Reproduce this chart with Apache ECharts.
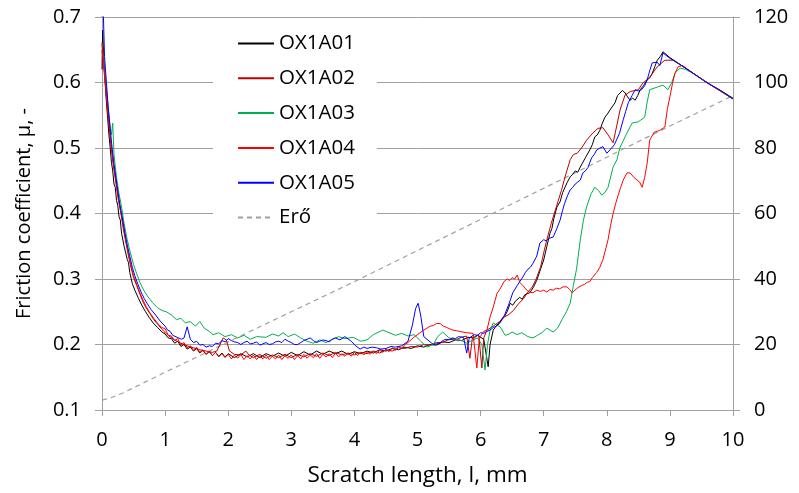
<!DOCTYPE html>
<html>
<head>
<meta charset="utf-8">
<script src="https://cdn.jsdelivr.net/npm/echarts@6/dist/echarts.min.js"></script>
<style>html,body{margin:0;padding:0;background:#fff}#c{width:799px;height:493px}</style>
</head>
<body>
<div id="c"></div>
<script>
// Tick values
const xTicks = [0,1,2,3,4,5,6,7,8,9,10];
const leftTicks = [0.1,0.2,0.3,0.4,0.5,0.6,0.7];
const rightTicks = [0,20,40,60,80,100,120];

const seriesNames = ['OX1A01','OX1A02','OX1A03','OX1A04','OX1A05','Erő'];

// [scratch length (mm), friction coefficient]
const OX1A01 = [[0,0.62],[0.01,0.68],[0.03,0.63],[0.05,0.6],[0.07,0.57],[0.09,0.545],[0.11,0.52],[0.13,0.5],[0.15,0.478],[0.17,0.465],[0.19,0.445],[0.21,0.44],[0.23,0.42],[0.25,0.412],[0.27,0.395],[0.29,0.39],[0.31,0.37],[0.33,0.368],[0.35,0.35],[0.37,0.347],[0.4,0.33],[0.42,0.325],[0.44,0.31],[0.46,0.308],[0.48,0.293],[0.5,0.294],[0.52,0.283],[0.55,0.28],[0.58,0.27],[0.6,0.271],[0.63,0.26],[0.66,0.26],[0.69,0.25],[0.72,0.25],[0.75,0.241],[0.78,0.242],[0.81,0.233],[0.84,0.233],[0.88,0.226],[0.91,0.226],[0.95,0.219],[1.0,0.216],[1.05,0.21],[1.1,0.209],[1.15,0.202],[1.2,0.205],[1.25,0.197],[1.3,0.2],[1.35,0.193],[1.4,0.196],[1.45,0.19],[1.5,0.194],[1.55,0.187],[1.6,0.191],[1.65,0.185],[1.7,0.189],[1.75,0.183],[1.8,0.188],[1.85,0.182],[1.9,0.187],[1.95,0.181],[2.0,0.186],[2.1,0.18],[2.2,0.186],[2.3,0.181],[2.4,0.186],[2.5,0.18],[2.6,0.186],[2.7,0.182],[2.8,0.187],[2.9,0.182],[3.0,0.188],[3.1,0.183],[3.2,0.189],[3.3,0.184],[3.4,0.19],[3.5,0.185],[3.6,0.19],[3.7,0.186],[3.8,0.19],[3.9,0.185],[4.0,0.189],[4.1,0.186],[4.2,0.19],[4.3,0.187],[4.4,0.192],[4.5,0.19],[4.6,0.194],[4.7,0.192],[4.8,0.196],[4.9,0.194],[5.0,0.198],[5.1,0.196],[5.2,0.2],[5.3,0.199],[5.4,0.204],[5.5,0.203],[5.6,0.207],[5.7,0.206],[5.8,0.211],[5.9,0.21],[5.95,0.214],[6.05,0.208],[6.12,0.166],[6.15,0.2],[6.2,0.222],[6.26,0.23],[6.3,0.233],[6.34,0.24],[6.38,0.243],[6.42,0.25],[6.47,0.263],[6.51,0.26],[6.55,0.266],[6.62,0.272],[6.66,0.269],[6.7,0.276],[6.78,0.279],[6.84,0.288],[6.89,0.298],[6.95,0.315],[7.0,0.329],[7.05,0.35],[7.1,0.37],[7.13,0.377],[7.16,0.392],[7.21,0.41],[7.26,0.418],[7.3,0.432],[7.37,0.447],[7.42,0.456],[7.46,0.46],[7.5,0.465],[7.54,0.463],[7.58,0.471],[7.66,0.485],[7.73,0.497],[7.77,0.505],[7.81,0.517],[7.85,0.52],[7.89,0.527],[7.93,0.538],[7.97,0.547],[8.01,0.552],[8.05,0.558],[8.13,0.569],[8.17,0.58],[8.21,0.584],[8.25,0.588],[8.29,0.584],[8.33,0.578],[8.37,0.573],[8.41,0.576],[8.45,0.573],[8.49,0.58],[8.53,0.589],[8.58,0.595],[8.64,0.604],[8.68,0.607],[8.72,0.614],[8.76,0.624],[8.8,0.634],[8.85,0.64],[8.89,0.647],[9.0,0.638],[9.2,0.625],[9.4,0.612],[9.6,0.599],[9.8,0.588],[10,0.576]];

const OX1A02 = [[0,0.65],[0.02,0.63],[0.05,0.6],[0.08,0.565],[0.11,0.535],[0.14,0.505],[0.17,0.48],[0.2,0.46],[0.23,0.44],[0.26,0.42],[0.3,0.4],[0.34,0.375],[0.38,0.355],[0.42,0.335],[0.46,0.318],[0.5,0.302],[0.55,0.29],[0.6,0.277],[0.65,0.265],[0.7,0.256],[0.76,0.247],[0.82,0.238],[0.9,0.229],[0.98,0.22],[1.06,0.213],[1.15,0.207],[1.25,0.202],[1.35,0.198],[1.45,0.195],[1.55,0.192],[1.65,0.19],[1.75,0.188],[1.82,0.19],[1.87,0.2],[1.92,0.21],[1.97,0.207],[2.02,0.19],[2.1,0.185],[2.2,0.184],[2.28,0.19],[2.33,0.184],[2.4,0.18],[2.5,0.185],[2.6,0.179],[2.7,0.184],[2.8,0.18],[2.9,0.185],[3.0,0.18],[3.1,0.185],[3.2,0.181],[3.3,0.186],[3.4,0.182],[3.5,0.187],[3.6,0.183],[3.7,0.188],[3.8,0.184],[3.9,0.187],[4.0,0.184],[4.1,0.188],[4.2,0.186],[4.3,0.19],[4.4,0.187],[4.5,0.192],[4.6,0.19],[4.7,0.195],[4.8,0.194],[4.9,0.197],[5.0,0.196],[5.1,0.2],[5.2,0.199],[5.3,0.203],[5.4,0.203],[5.5,0.208],[5.6,0.207],[5.7,0.211],[5.78,0.213],[5.83,0.179],[5.87,0.21],[5.97,0.215],[6.02,0.164],[6.05,0.21],[6.1,0.222],[6.2,0.228],[6.3,0.235],[6.38,0.242],[6.45,0.246],[6.52,0.252],[6.6,0.262],[6.68,0.27],[6.75,0.28],[6.82,0.288],[6.88,0.3],[6.95,0.318],[7.0,0.34],[7.05,0.36],[7.12,0.385],[7.2,0.41],[7.28,0.435],[7.35,0.46],[7.42,0.482],[7.47,0.49],[7.53,0.492],[7.6,0.5],[7.68,0.512],[7.78,0.523],[7.86,0.53],[7.94,0.531],[8.02,0.52],[8.1,0.508],[8.16,0.535],[8.21,0.558],[8.29,0.581],[8.37,0.586],[8.5,0.589],[8.57,0.599],[8.68,0.608],[8.8,0.624],[8.92,0.634],[9.05,0.634],[9.2,0.625],[9.4,0.612],[9.6,0.599],[9.8,0.587],[10,0.575]];

const OX1A03 = [[0,0.66],[0.03,0.63],[0.06,0.6],[0.09,0.57],[0.12,0.54],[0.15,0.52],[0.17,0.538],[0.19,0.49],[0.23,0.455],[0.27,0.43],[0.31,0.41],[0.35,0.385],[0.4,0.36],[0.45,0.34],[0.5,0.322],[0.55,0.308],[0.6,0.295],[0.66,0.283],[0.72,0.274],[0.8,0.264],[0.88,0.256],[0.95,0.252],[1.02,0.25],[1.1,0.245],[1.18,0.238],[1.25,0.24],[1.32,0.233],[1.4,0.235],[1.48,0.228],[1.55,0.235],[1.62,0.225],[1.7,0.22],[1.76,0.215],[1.85,0.218],[1.95,0.212],[2.05,0.215],[2.15,0.21],[2.25,0.214],[2.35,0.208],[2.45,0.212],[2.6,0.211],[2.7,0.216],[2.8,0.213],[2.87,0.218],[2.95,0.212],[3.05,0.216],[3.15,0.21],[3.25,0.205],[3.35,0.202],[3.45,0.207],[3.55,0.203],[3.65,0.208],[3.75,0.212],[3.85,0.209],[3.98,0.211],[4.1,0.205],[4.2,0.207],[4.3,0.215],[4.45,0.222],[4.55,0.218],[4.65,0.214],[4.75,0.217],[4.85,0.213],[4.95,0.215],[5.05,0.205],[5.15,0.196],[5.25,0.2],[5.32,0.212],[5.4,0.219],[5.5,0.21],[5.6,0.208],[5.7,0.206],[5.78,0.202],[5.86,0.206],[5.95,0.21],[6.02,0.2],[6.07,0.161],[6.11,0.2],[6.15,0.222],[6.2,0.233],[6.25,0.23],[6.31,0.227],[6.39,0.214],[6.45,0.216],[6.5,0.219],[6.58,0.215],[6.65,0.218],[6.75,0.212],[6.83,0.21],[6.9,0.214],[6.97,0.218],[7.05,0.225],[7.1,0.222],[7.15,0.219],[7.22,0.225],[7.3,0.24],[7.36,0.25],[7.42,0.263],[7.47,0.29],[7.52,0.315],[7.58,0.36],[7.63,0.39],[7.68,0.41],[7.75,0.43],[7.81,0.44],[7.87,0.435],[7.92,0.428],[7.97,0.432],[8.02,0.44],[8.1,0.471],[8.16,0.482],[8.21,0.501],[8.32,0.523],[8.4,0.538],[8.5,0.54],[8.6,0.547],[8.64,0.57],[8.68,0.589],[8.8,0.593],[8.89,0.596],[8.97,0.589],[9.03,0.6],[9.08,0.614],[9.16,0.622],[9.25,0.62],[9.4,0.612],[9.6,0.599],[9.8,0.587],[10,0.575]];

const OX1A04 = [[0,0.66],[0.02,0.64],[0.05,0.605],[0.08,0.57],[0.11,0.54],[0.14,0.51],[0.17,0.485],[0.2,0.465],[0.23,0.445],[0.26,0.425],[0.3,0.402],[0.34,0.38],[0.38,0.358],[0.42,0.338],[0.46,0.32],[0.5,0.305],[0.55,0.292],[0.6,0.279],[0.65,0.268],[0.7,0.258],[0.76,0.248],[0.82,0.24],[0.9,0.23],[0.95,0.226],[1.0,0.224],[1.05,0.214],[1.1,0.213],[1.15,0.206],[1.2,0.209],[1.25,0.199],[1.3,0.203],[1.35,0.195],[1.4,0.198],[1.45,0.191],[1.5,0.196],[1.55,0.188],[1.6,0.192],[1.65,0.185],[1.7,0.19],[1.75,0.183],[1.8,0.188],[1.85,0.181],[1.9,0.186],[1.95,0.18],[2.0,0.185],[2.05,0.178],[2.1,0.184],[2.15,0.179],[2.2,0.185],[2.25,0.177],[2.3,0.183],[2.35,0.178],[2.4,0.184],[2.45,0.177],[2.5,0.183],[2.55,0.178],[2.6,0.184],[2.65,0.177],[2.7,0.182],[2.75,0.178],[2.8,0.184],[2.85,0.177],[2.9,0.183],[2.95,0.179],[3.0,0.184],[3.05,0.177],[3.1,0.183],[3.15,0.178],[3.2,0.185],[3.25,0.179],[3.3,0.184],[3.35,0.18],[3.4,0.186],[3.45,0.179],[3.5,0.185],[3.55,0.181],[3.6,0.186],[3.65,0.18],[3.7,0.187],[3.75,0.181],[3.8,0.186],[3.85,0.182],[3.9,0.187],[3.95,0.182],[4.0,0.188],[4.05,0.183],[4.1,0.188],[4.15,0.184],[4.2,0.189],[4.25,0.185],[4.3,0.19],[4.35,0.186],[4.4,0.191],[4.45,0.188],[4.5,0.193],[4.55,0.189],[4.6,0.195],[4.65,0.191],[4.7,0.197],[4.75,0.194],[4.8,0.2],[4.85,0.203],[4.93,0.21],[5.04,0.218],[5.1,0.222],[5.15,0.225],[5.2,0.228],[5.25,0.229],[5.3,0.232],[5.36,0.232],[5.41,0.228],[5.46,0.226],[5.51,0.224],[5.56,0.222],[5.62,0.221],[5.67,0.22],[5.72,0.219],[5.78,0.218],[5.88,0.217],[5.94,0.164],[5.98,0.21],[6.05,0.22],[6.1,0.222],[6.15,0.242],[6.2,0.257],[6.26,0.278],[6.31,0.285],[6.37,0.296],[6.42,0.3],[6.46,0.298],[6.5,0.302],[6.54,0.3],[6.58,0.306],[6.62,0.295],[6.67,0.29],[6.73,0.283],[6.78,0.28],[6.83,0.279],[6.89,0.283],[6.95,0.281],[7.0,0.283],[7.05,0.28],[7.1,0.284],[7.15,0.283],[7.2,0.286],[7.25,0.285],[7.31,0.288],[7.37,0.288],[7.41,0.284],[7.45,0.279],[7.52,0.285],[7.56,0.288],[7.6,0.29],[7.65,0.292],[7.69,0.295],[7.73,0.296],[7.77,0.302],[7.84,0.31],[7.89,0.318],[7.94,0.33],[8.02,0.36],[8.06,0.382],[8.1,0.4],[8.14,0.415],[8.18,0.428],[8.22,0.44],[8.26,0.451],[8.32,0.462],[8.37,0.462],[8.43,0.455],[8.48,0.451],[8.52,0.448],[8.56,0.44],[8.6,0.455],[8.64,0.477],[8.68,0.512],[8.75,0.524],[8.84,0.527],[8.92,0.532],[8.96,0.56],[9.0,0.578],[9.04,0.598],[9.08,0.614],[9.13,0.624],[9.2,0.626],[9.4,0.612],[9.6,0.599],[9.8,0.587],[10,0.575]];

const OX1A05 = [[0,0.7],[0.02,0.71],[0.04,0.64],[0.07,0.6],[0.1,0.56],[0.13,0.53],[0.16,0.5],[0.19,0.475],[0.22,0.455],[0.25,0.435],[0.28,0.415],[0.32,0.395],[0.36,0.372],[0.4,0.352],[0.44,0.335],[0.48,0.318],[0.52,0.305],[0.57,0.292],[0.62,0.28],[0.67,0.27],[0.72,0.262],[0.78,0.253],[0.85,0.245],[0.92,0.236],[1.0,0.228],[1.04,0.222],[1.08,0.22],[1.12,0.214],[1.15,0.216],[1.19,0.211],[1.22,0.214],[1.26,0.208],[1.3,0.21],[1.35,0.227],[1.4,0.208],[1.45,0.203],[1.5,0.205],[1.55,0.199],[1.6,0.2],[1.65,0.196],[1.7,0.198],[1.75,0.197],[1.8,0.202],[1.85,0.201],[1.9,0.206],[1.95,0.204],[2.0,0.209],[2.05,0.206],[2.1,0.204],[2.15,0.203],[2.2,0.2],[2.25,0.203],[2.3,0.205],[2.35,0.201],[2.4,0.202],[2.45,0.204],[2.5,0.199],[2.55,0.201],[2.6,0.203],[2.65,0.2],[2.7,0.201],[2.75,0.204],[2.8,0.205],[2.85,0.203],[2.9,0.208],[2.95,0.205],[3.0,0.203],[3.05,0.2],[3.1,0.2],[3.15,0.203],[3.2,0.206],[3.25,0.208],[3.3,0.21],[3.35,0.206],[3.4,0.203],[3.45,0.205],[3.5,0.207],[3.55,0.206],[3.6,0.204],[3.65,0.208],[3.7,0.21],[3.77,0.207],[3.85,0.212],[3.95,0.205],[4.02,0.198],[4.09,0.193],[4.15,0.196],[4.2,0.194],[4.28,0.196],[4.35,0.195],[4.42,0.193],[4.5,0.194],[4.58,0.197],[4.65,0.196],[4.75,0.198],[4.85,0.205],[4.92,0.23],[4.97,0.255],[5.01,0.263],[5.05,0.245],[5.1,0.212],[5.15,0.208],[5.2,0.204],[5.25,0.2],[5.3,0.201],[5.35,0.202],[5.4,0.206],[5.45,0.208],[5.5,0.207],[5.55,0.21],[5.6,0.209],[5.65,0.212],[5.73,0.211],[5.78,0.187],[5.82,0.21],[5.9,0.215],[5.95,0.214],[6.0,0.218],[6.05,0.217],[6.1,0.22],[6.15,0.222],[6.2,0.226],[6.25,0.228],[6.3,0.232],[6.34,0.238],[6.38,0.245],[6.45,0.262],[6.51,0.279],[6.58,0.29],[6.62,0.296],[6.67,0.303],[6.71,0.31],[6.75,0.315],[6.79,0.318],[6.83,0.324],[6.89,0.335],[6.94,0.355],[7.0,0.36],[7.04,0.358],[7.08,0.362],[7.15,0.364],[7.2,0.375],[7.26,0.39],[7.3,0.405],[7.33,0.415],[7.38,0.428],[7.42,0.436],[7.46,0.44],[7.5,0.445],[7.54,0.448],[7.58,0.451],[7.62,0.462],[7.66,0.465],[7.7,0.47],[7.76,0.485],[7.8,0.49],[7.84,0.497],[7.89,0.5],[7.94,0.502],[8.0,0.492],[8.05,0.497],[8.12,0.505],[8.2,0.522],[8.26,0.543],[8.3,0.556],[8.34,0.569],[8.4,0.58],[8.45,0.589],[8.5,0.587],[8.55,0.589],[8.6,0.595],[8.64,0.604],[8.68,0.618],[8.72,0.63],[8.8,0.631],[8.84,0.626],[8.89,0.645],[9.0,0.637],[9.2,0.625],[9.4,0.612],[9.6,0.599],[9.8,0.588],[10,0.575]];

// [scratch length (mm), load (N)] on the right axis
const Ero = [[0,3],[0.15,3.8],[0.33,5.2],[1,11.5],[2,20.8],[3,30],[4,39.2],[5,48.7],[6,58.2],[7,67.7],[8,77.2],[9,86.7],[10,96]];

const colors = ['#000000','#c00000','#00b050','#ff0000','#0000ff','#a0a0a0'];
const lineData = [OX1A01, OX1A02, OX1A03, OX1A04, OX1A05];

const FONT = '"Open Sans", sans-serif';
const gridColor = '#a0a0a0';

const chart = echarts.init(document.getElementById('c'), null, {renderer: 'canvas'});

const series = lineData.map((d, i) => ({
  name: seriesNames[i], type: 'line', data: d, symbol: 'none', showSymbol: false,
  lineStyle: {width: 1, color: colors[i]}, itemStyle: {color: colors[i]},
  xAxisIndex: 0, yAxisIndex: 0, animation: false, z: 3 + i
}));
series.push({
  name: seriesNames[5], type: 'line', data: Ero, symbol: 'none', showSymbol: false,
  lineStyle: {width: 1.2, color: colors[5], type: [5, 4]}, itemStyle: {color: colors[5]},
  xAxisIndex: 0, yAxisIndex: 1, animation: false, z: 2
});

chart.setOption({
  animation: false,
  backgroundColor: '#ffffff',
  textStyle: {fontFamily: FONT},
  grid: {left: 102, right: 66, top: 17, bottom: 83, containLabel: false},
  legend: {
    show: true,
    orient: 'vertical', left: 213, top: 25,
    padding: [8, 22, 8, 24], backgroundColor: '#ffffff',
    itemWidth: 36, itemHeight: 14, itemGap: 13.8,
    data: seriesNames,
    itemStyle: {opacity: 0},
    textStyle: {fontFamily: FONT, fontSize: 20.5, color: '#000', lineHeight: 20}
  },
  xAxis: {
    type: 'value', min: xTicks[0], max: xTicks[xTicks.length - 1], interval: 1,
    name: 'Scratch length, l, mm', nameLocation: 'middle', nameGap: 54,
    nameTextStyle: {fontFamily: FONT, fontSize: 22.5, color: '#000'},
    axisLine: {show: true, lineStyle: {color: gridColor, width: 1}},
    axisTick: {show: true, inside: false, length: 6, lineStyle: {color: gridColor}},
    axisLabel: {fontFamily: FONT, fontSize: 20, color: '#000', margin: 20},
    splitLine: {show: false}
  },
  yAxis: [{
    type: 'value', min: leftTicks[0], max: leftTicks[leftTicks.length - 1], interval: 0.1,
    position: 'left',
    name: 'Friction coefficient, μ, -', nameLocation: 'middle', nameGap: 68,
    nameTextStyle: {fontFamily: FONT, fontSize: 20, color: '#000'},
    axisLine: {show: true, lineStyle: {color: gridColor, width: 1}},
    axisTick: {show: true, inside: false, length: 7, lineStyle: {color: gridColor}},
    axisLabel: {fontFamily: FONT, fontSize: 20, color: '#000', margin: 21, formatter: v => v.toFixed(1)},
    splitLine: {show: true, lineStyle: {color: gridColor, width: 1}}
  }, {
    type: 'value', min: rightTicks[0], max: rightTicks[rightTicks.length - 1], interval: 20,
    position: 'right',
    axisLine: {show: true, lineStyle: {color: gridColor, width: 1}},
    axisTick: {show: true, inside: false, length: 7, lineStyle: {color: gridColor}},
    axisLabel: {fontFamily: FONT, fontSize: 20, color: '#000', margin: 21},
    splitLine: {show: false}
  }],
  series: series
});
</script>
</body>
</html>
